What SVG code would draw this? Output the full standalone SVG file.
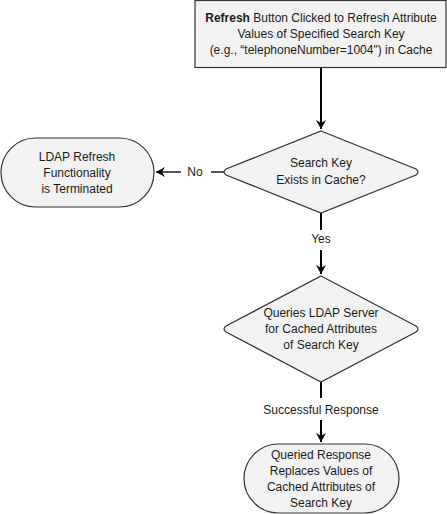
<svg xmlns="http://www.w3.org/2000/svg" width="447" height="514" viewBox="0 0 447 514">
<defs>
<marker id="ah" markerWidth="10" markerHeight="10" refX="9" refY="5" orient="auto" markerUnits="userSpaceOnUse">
<path d="M0,0 L9,5 L0,10 L3,5 Z" fill="#000"/>
</marker>
</defs>
<style>
.shape{fill:#f2f2f2;stroke:#333;stroke-width:1.2}
.t{font-family:"Liberation Sans",Arial,sans-serif;font-size:12px;fill:#1a1a1a;text-anchor:middle}
.c{stroke:#000;stroke-width:2;fill:none}
.g{stroke:#555;stroke-width:2;fill:none}
</style>
<rect width="447" height="514" fill="#fff"/>
<g id="connectors">
<line class="c" x1="321" y1="68" x2="321" y2="129" marker-end="url(#ah)"/>
<line class="g" x1="224" y1="172" x2="211" y2="172"/>
<line class="g" x1="181" y1="172" x2="156" y2="172" marker-end="url(#ah)"/>
<text class="t" x="195" y="176">No</text>
<line class="c" x1="321" y1="213" x2="321" y2="230"/>
<text class="t" x="321" y="243">Yes</text>
<line class="c" x1="321" y1="250" x2="321" y2="274" marker-end="url(#ah)"/>
<line class="c" x1="321" y1="382" x2="321" y2="398"/>
<text class="t" x="321" y="414">Successful Response</text>
<line class="c" x1="321" y1="420" x2="321" y2="442" marker-end="url(#ah)"/>
</g>
<g id="start">
<rect class="shape" x="195" y="0.5" width="251" height="67"/>
<text class="t" x="321" y="22"><tspan font-weight="bold">Refresh</tspan> Button Clicked to Refresh Attribute</text>
<text class="t" x="321" y="38">Values of Specified Search Key</text>
<text class="t" x="321" y="54">(e.g., “telephoneNumber=1004") in Cache</text>
</g>
<g id="decision1">
<path class="shape" d="M321,131 L416,169 Q420,172 416,175 L321,213 L226,175 Q222,172 226,169 Z"/>
<text class="t" x="321" y="167">Search Key</text>
<text class="t" x="321" y="184">Exists in Cache?</text>
</g>
<g id="terminated">
<rect class="shape" x="1" y="138" width="153" height="69" rx="34.5" ry="34.5"/>
<text class="t" x="77" y="161">LDAP Refresh</text>
<text class="t" x="77" y="177">Functionality</text>
<text class="t" x="77" y="193">is Terminated</text>
</g>
<g id="decision2">
<path class="shape" d="M321,276 L416,326 Q420,329 416,332 L321,382 L226,332 Q222,329 226,326 Z"/>
<text class="t" x="321" y="317">Queries LDAP Server</text>
<text class="t" x="321" y="333">for Cached Attributes</text>
<text class="t" x="321" y="349">of Search Key</text>
</g>
<g id="replace">
<rect class="shape" x="244" y="444" width="155" height="69" rx="34.5" ry="34.5"/>
<text class="t" x="321" y="459">Queried Response</text>
<text class="t" x="321" y="475">Replaces Values of</text>
<text class="t" x="321" y="491">Cached Attributes of</text>
<text class="t" x="321" y="507">Search Key</text>
</g>
</svg>
